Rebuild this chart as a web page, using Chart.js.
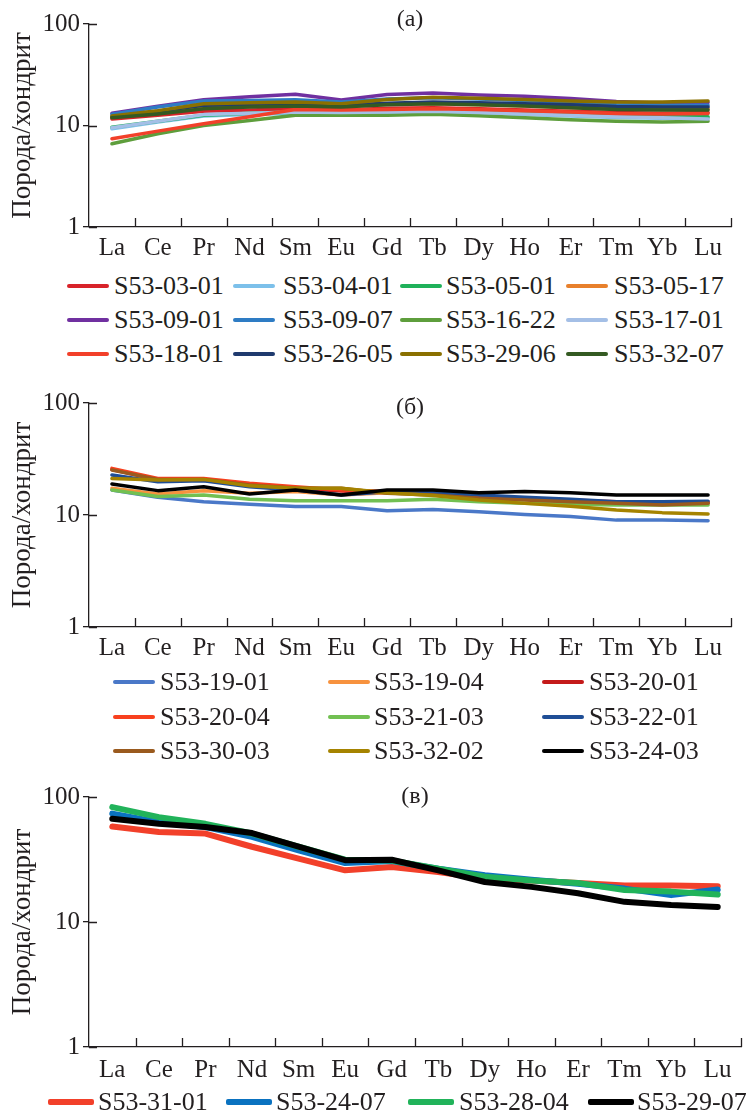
<!DOCTYPE html>
<html>
<head>
<meta charset="utf-8">
<script src="https://cdn.jsdelivr.net/npm/chart.js@4"></script>
<style>
    body { margin: 0; background: #fff; width: 753px; height: 1113px; position: relative; overflow: hidden;
           font-family: "Liberation Serif", "Times New Roman", serif; color: #231f20; }
    .panel { position: absolute; left: 0; width: 753px; }
    .leg { position: absolute; height: 30px; white-space: nowrap; }
    .leg .ln { position: absolute; left: 0; border-radius: 2px; }
    .leg .tx { position: absolute; top: 0; font-size: 26px; line-height: 30px; }
</style>
</head>
<body>
<div class="panel" style="top:0;height:270px"><canvas id="chart-a"></canvas></div>
<div class="panel" style="top:379px;height:291px"><canvas id="chart-b"></canvas></div>
<div class="panel" style="top:773px;height:319px"><canvas id="chart-c"></canvas></div>
<div id="legends"></div>

<script>
// REE elements on the x axis
const elements = ['La', 'Ce', 'Pr', 'Nd', 'Sm', 'Eu', 'Gd', 'Tb', 'Dy', 'Ho', 'Er', 'Tm', 'Yb', 'Lu'];
const yTicks = [1, 10, 100];
const yTitle = 'Порода/хондрит';

// Panel (а)
const namesA = ['S53-03-01', 'S53-04-01', 'S53-05-01', 'S53-05-17',
                'S53-09-01', 'S53-09-07', 'S53-16-22', 'S53-17-01',
                'S53-18-01', 'S53-26-05', 'S53-29-06', 'S53-32-07'];
const valuesA = [
    [11.6, 12.6, 13.8, 14.2, 14.6, 14.2, 14.8, 15.0, 14.6, 14.2, 13.8, 13.4, 13.2, 13.4],
    [9.3, 10.8, 12.4, 12.8, 13.2, 13.0, 13.4, 13.6, 13.2, 12.8, 12.4, 12.0, 11.8, 11.8],
    [9.6, 11.0, 12.6, 13.2, 13.6, 13.4, 13.8, 14.0, 13.6, 13.2, 12.8, 12.4, 12.2, 12.2],
    [12.0, 13.4, 15.0, 15.4, 15.8, 15.4, 16.2, 16.4, 16.0, 15.6, 15.0, 14.6, 14.4, 14.6],
    [13.2, 15.5, 17.9, 19.2, 20.3, 17.8, 20.2, 20.9, 20.0, 19.4, 18.4, 17.2, 16.6, 16.8],
    [12.9, 15.2, 17.4, 17.6, 17.9, 17.0, 18.2, 18.8, 18.2, 17.6, 16.8, 16.0, 15.8, 15.8],
    [6.6, 8.3, 10.0, 11.2, 12.6, 12.6, 12.6, 12.9, 12.5, 11.9, 11.4, 11.0, 10.8, 11.0],
    [9.5, 11.0, 12.8, 13.2, 13.6, 13.4, 13.6, 13.8, 13.4, 13.0, 12.6, 12.2, 11.9, 11.6],
    [7.4, 8.8, 10.4, 12.2, 14.4, 14.2, 14.4, 14.6, 14.4, 14.0, 13.6, 13.1, 13.0, 13.1],
    [12.2, 13.8, 15.8, 16.0, 16.2, 15.8, 16.6, 17.0, 16.8, 16.4, 16.0, 15.4, 15.2, 15.2],
    [12.4, 14.0, 16.4, 16.8, 17.0, 16.4, 18.0, 19.0, 18.6, 18.0, 17.4, 17.0, 17.0, 17.4],
    [11.9, 13.0, 14.6, 15.2, 15.6, 15.2, 16.0, 16.4, 16.0, 15.6, 15.0, 14.4, 14.2, 14.2]
];
const colorsA = ['#d8232a', '#7cc0ea', '#1fb15a', '#e8802c', '#7030a0', '#2e7cc4',
                 '#5e9e3c', '#a4bfe6', '#f2402a', '#1f3a6e', '#8a7000', '#345a22'];

// Panel (б)
const namesB = ['S53-19-01', 'S53-19-04', 'S53-20-01',
                'S53-20-04', 'S53-21-03', 'S53-22-01',
                'S53-30-03', 'S53-32-02', 'S53-24-03'];
const valuesB = [
    [16.7, 14.4, 13.1, 12.5, 11.9, 11.9, 10.9, 11.2, 10.7, 10.1, 9.7, 9.0, 9.0, 8.9],
    [17.3, 15.4, 16.5, 15.6, 16.2, 15.1, 15.8, 15.4, 14.4, 13.8, 13.4, 12.9, 12.7, 12.9],
    [25.5, 20.6, 20.4, 18.6, 17.4, 16.4, 16.0, 15.8, 14.6, 14.0, 13.4, 12.9, 12.7, 12.8],
    [26.1, 21.2, 21.2, 19.2, 17.9, 16.7, 16.2, 16.1, 14.8, 14.1, 13.6, 13.1, 12.9, 13.1],
    [16.7, 14.6, 15.1, 13.8, 13.4, 13.4, 13.4, 13.8, 13.1, 12.7, 12.5, 12.3, 12.3, 12.3],
    [22.8, 19.8, 20.2, 17.9, 16.7, 15.1, 16.1, 15.9, 15.1, 14.4, 13.8, 13.1, 13.1, 13.3],
    [25.2, 20.8, 20.8, 18.5, 17.3, 17.3, 15.6, 15.1, 14.1, 13.6, 13.1, 12.7, 12.3, 12.7],
    [21.2, 20.5, 20.8, 18.2, 17.3, 17.3, 15.8, 14.9, 13.6, 12.7, 12.0, 11.1, 10.5, 10.2],
    [18.9, 16.5, 17.9, 15.4, 16.7, 15.1, 16.7, 16.7, 15.8, 16.2, 15.8, 15.1, 15.1, 15.1]
];
const colorsB = ['#4a78c8', '#f7923e', '#c41a1a', '#f8401e', '#72c052', '#1f4e96',
                 '#9a5a1e', '#a58300', '#000000'];

// Panel (в)
const namesC = ['S53-31-01', 'S53-24-07', 'S53-28-04', 'S53-29-07'];
const valuesC = [
    [58, 52.5, 51, 40, 32.1, 25.9, 27.5, 25.1, 22.3, 21.5, 20.5, 19.6, 19.6, 19.3],
    [73.6, 63, 57.5, 48, 37.4, 29.6, 30.7, 26.7, 23.7, 21.8, 20.2, 18.5, 16.4, 18.2],
    [83, 69, 61, 51, 40, 31.5, 31, 26.7, 23, 21.5, 20.5, 18, 17.5, 16.6],
    [67, 61, 57.5, 51.5, 40, 31.2, 31.5, 25.9, 20.9, 19.1, 17, 14.5, 13.7, 13.2]
];
const colorsC = ['#f2402a', '#0a72c0', '#21b35a', '#000000'];

const ink = '#231f20';
const serif = '"Liberation Serif", "Times New Roman", serif';

// inside tick marks on both axes + panel label
const axisMarks = {
    id: 'axisMarks',
    afterDraw(chart, args, opts) {
        const { ctx, chartArea, scales: { x, y } } = chart;
        ctx.save();
        ctx.strokeStyle = ink;
        ctx.lineWidth = 1.3;
        ctx.beginPath();
        const n = x.ticks.length;
        const step = x.getPixelForTick(1) - x.getPixelForTick(0);
        for (let i = 0; i < n; i++) {
            const px = Math.round(x.getPixelForTick(i) + step / 2) + 0.5;
            ctx.moveTo(px, chartArea.bottom);
            ctx.lineTo(px, chartArea.bottom - 9);
        }
        y.ticks.forEach(t => {
            const py = Math.round(y.getPixelForValue(t.value)) + 0.5;
            ctx.moveTo(chartArea.left, py);
            ctx.lineTo(chartArea.left + 8, py);
        });
        ctx.stroke();
        ctx.fillStyle = ink;
        ctx.font = '24px ' + serif;
        ctx.textAlign = 'center';
        ctx.textBaseline = 'middle';
        ctx.fillText(opts.label, (chartArea.left + chartArea.right) / 2, chartArea.top + opts.dy);
        ctx.restore();
    }
};

function makeChart(id, names, values, colors, cfg) {
    const datasets = names.map((name, i) => ({
        label: name,
        data: values[i],
        borderColor: colors[i],
        backgroundColor: colors[i],
        borderWidth: cfg.lineWidth,
        pointRadius: 0,
        tension: 0,
        borderJoinStyle: 'round',
        borderCapStyle: 'round',
        order: names.length - i
    }));

    return new Chart(document.getElementById(id), {
        type: 'line',
        data: { labels: elements, datasets: datasets },
        plugins: [axisMarks],
        options: {
            responsive: true,
            maintainAspectRatio: false,
            animation: false,
            layout: { padding: { top: 24, right: cfg.right, left: 0, bottom: 0 } },
            plugins: {
                legend: { display: false },
                tooltip: { enabled: false },
                axisMarks: { label: cfg.label, dy: cfg.dy }
            },
            scales: {
                x: {
                    type: 'category',
                    offset: true,
                    grid: { display: false, drawTicks: false },
                    border: { display: true, color: ink, width: 1.3 },
                    ticks: { color: ink, font: { family: serif, size: 25 }, padding: cfg.xPad,
                             maxRotation: 0, autoSkip: false },
                    afterFit(s) { s.height = cfg.xHeight; }
                },
                y: {
                    type: 'logarithmic',
                    min: 1,
                    max: 100,
                    afterBuildTicks(s) { s.ticks = yTicks.map(v => ({ value: v })); },
                    grid: { drawOnChartArea: false, drawTicks: true, tickLength: 6, color: ink, lineWidth: 1.3 },
                    border: { display: true, color: ink, width: 1.3 },
                    ticks: { color: ink, font: { family: serif, size: 25 }, padding: 3,
                             callback: v => String(v) },
                    title: { display: true, text: yTitle, color: ink,
                             font: { family: serif, size: 27 }, padding: { top: 7, bottom: 0 } },
                    afterFit(s) { s.width = 89; }
                }
            }
        }
    });
}

makeChart('chart-a', namesA, valuesA, colorsA,
    { lineWidth: 3.5, right: 22, xHeight: 43, xPad: 6, label: '(а)', dy: -4 });
makeChart('chart-b', namesB, valuesB, colorsB,
    { lineWidth: 3.5, right: 22, xHeight: 43, xPad: 6, label: '(б)', dy: 5 });
makeChart('chart-c', namesC, valuesC, colorsC,
    { lineWidth: 6, right: 12, xHeight: 45, xPad: 8, label: '(в)', dy: 0 });

// HTML legends below each panel
function buildLegend(names, colors, layout) {
    const holder = document.getElementById('legends');
    names.forEach((name, i) => {
        const col = i % layout.lineLeft.length;
        const row = Math.floor(i / layout.lineLeft.length);
        const item = document.createElement('div');
        item.className = 'leg';
        item.style.left = layout.lineLeft[col] + 'px';
        item.style.top = (layout.rows[row] - 15) + 'px';
        const ln = document.createElement('span');
        ln.className = 'ln';
        ln.style.width = layout.lineLen + 'px';
        ln.style.height = layout.thick + 'px';
        ln.style.top = (15 - layout.thick / 2) + 'px';
        ln.style.background = colors[i];
        const tx = document.createElement('span');
        tx.className = 'tx';
        tx.style.left = (layout.textLeft[col] - layout.lineLeft[col]) + 'px';
        tx.textContent = name;
        item.appendChild(ln);
        item.appendChild(tx);
        holder.appendChild(item);
    });
}

buildLegend(namesA, colorsA, { lineLeft: [67, 233, 400, 566], textLeft: [114, 283, 446, 614],
    lineLen: 42, thick: 3.5, rows: [286, 320, 354] });
buildLegend(namesB, colorsB, { lineLeft: [113, 328, 542], textLeft: [160, 374, 589],
    lineLen: 42, thick: 3.5, rows: [682, 717, 751] });
buildLegend(namesC, colorsC, { lineLeft: [48, 226, 408, 588], textLeft: [98, 276, 459, 637],
    lineLen: 46, thick: 6, rows: [1102] });
</script>
</body>
</html>
